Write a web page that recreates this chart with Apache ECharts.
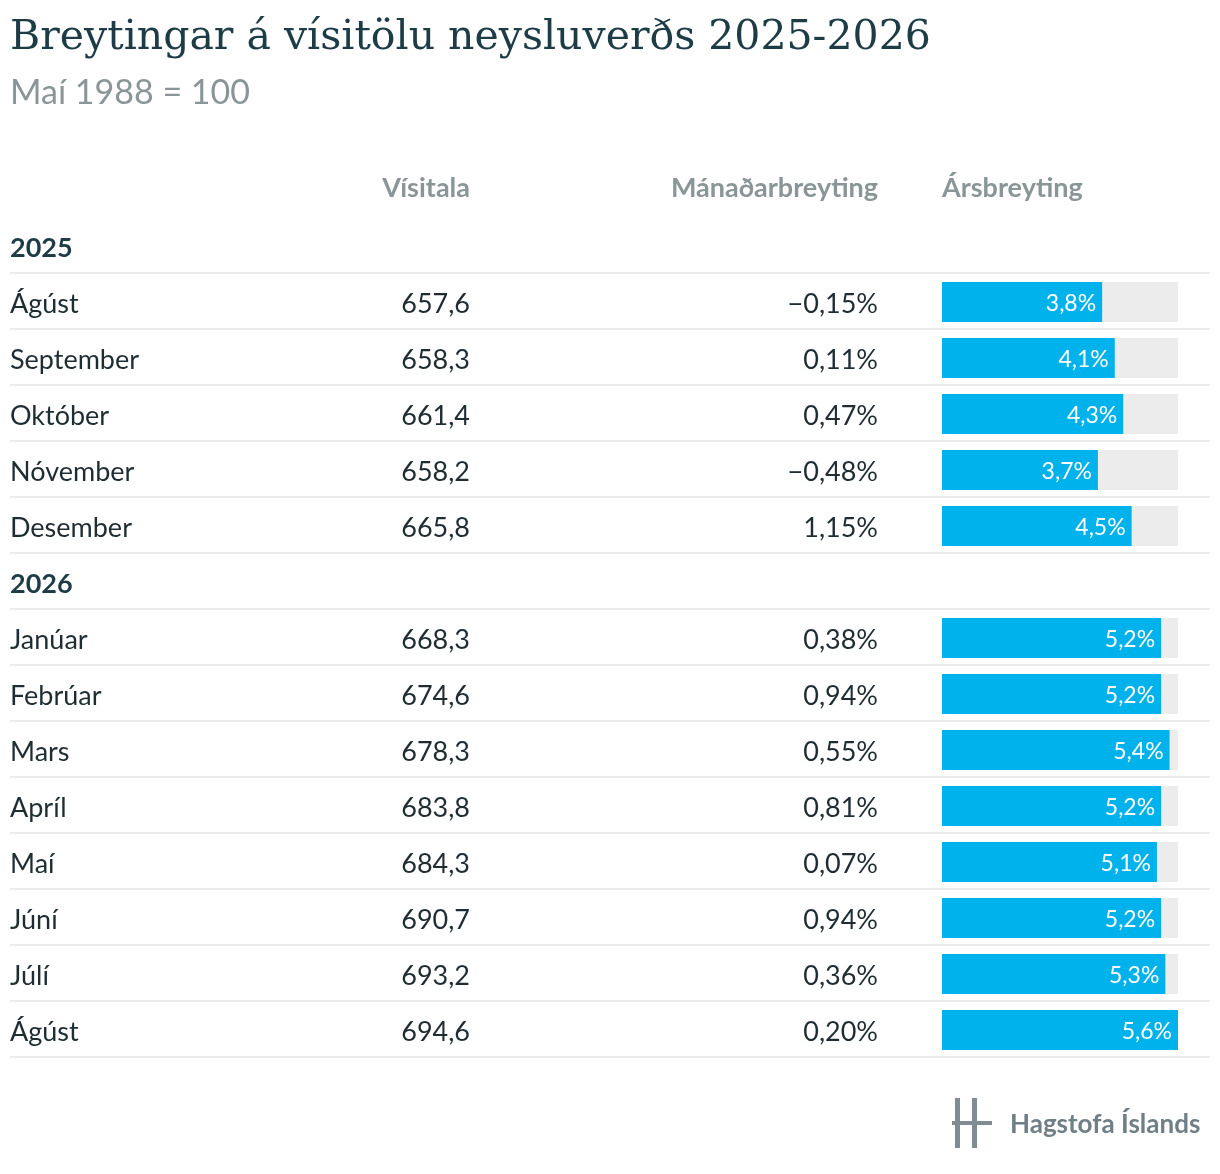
<!DOCTYPE html>
<html>
<head>
<meta charset="utf-8">
<script src="https://cdn.jsdelivr.net/npm/echarts@6/dist/echarts.min.js"></script>
<style>html,body{margin:0;padding:0;background:#fff}#chart{width:1220px;height:1174px}</style>
</head>
<body>
<div id="chart"></div>
<script>
// rows of the table, year headers have null values
var rows = ['2025', 'Ágúst', 'September', 'Október', 'Nóvember', 'Desember',
    '2026', 'Janúar', 'Febrúar', 'Mars', 'Apríl', 'Maí', 'Júní', 'Júlí', 'Ágúst'];
var visitala = [null, '657,6', '658,3', '661,4', '658,2', '665,8',
    null, '668,3', '674,6', '678,3', '683,8', '684,3', '690,7', '693,2', '694,6'];
var manadar = [null, '\u22120,15%', '0,11%', '0,47%', '\u22120,48%', '1,15%',
    null, '0,38%', '0,94%', '0,55%', '0,81%', '0,07%', '0,94%', '0,36%', '0,20%'];
var arsbreyting = ['-', 3.8, 4.1, 4.3, 3.7, 4.5, '-', 5.2, 5.2, 5.4, 5.2, 5.1, 5.2, 5.3, 5.6];
var maxValue = 5.6;

var top0 = 218, rowH = 56;
var font = 'Lato, "Open Sans", sans-serif';
var graphics = [
    {type: 'text', left: 10, top: 18, style: {text: 'Breytingar á vísitölu neysluverðs 2025-2026', font: '41px "DejaVu Serif", serif', fill: '#1d3c46'}},
    {type: 'text', left: 10, top: 76, style: {text: 'Maí 1988 = 100', font: '34px ' + font, fill: '#8a9598'}},
    {type: 'text', x: 470, y: 188, style: {text: 'Vísitala', font: 'bold 27px ' + font, fill: '#8a9598', align: 'right', verticalAlign: 'middle'}},
    {type: 'text', x: 878, y: 188, style: {text: 'Mánaðarbreyting', font: 'bold 27px ' + font, fill: '#8a9598', align: 'right', verticalAlign: 'middle'}},
    {type: 'text', x: 942, y: 188, style: {text: 'Ársbreyting', font: 'bold 27px ' + font, fill: '#8a9598', align: 'left', verticalAlign: 'middle'}}
];
rows.forEach(function (r, i) {
    var cy = top0 + rowH * i + rowH / 2 + 2;
    var isYear = visitala[i] === null;
    graphics.push({type: 'text', x: 10, y: cy, style: {text: r, font: (isYear ? 'bold ' : '') + '27px ' + font, fill: isYear ? '#1d3c46' : '#1f2d33', verticalAlign: 'middle'}});
    if (!isYear) {
        graphics.push({type: 'text', x: 470, y: cy, style: {text: visitala[i], font: '27px ' + font, fill: '#1f2d33', align: 'right', verticalAlign: 'middle'}});
        graphics.push({type: 'text', x: 878, y: cy, style: {text: manadar[i], font: '27px ' + font, fill: '#1f2d33', align: 'right', verticalAlign: 'middle'}});
    }
    graphics.push({type: 'line', shape: {x1: 10, y1: top0 + rowH * (i + 1) - 1, x2: 1210, y2: top0 + rowH * (i + 1) - 1}, style: {stroke: '#e6e6e6', lineWidth: 1.5}});
});
// logo
graphics.push({type: 'group', left: 952, top: 1098, children: [
    {type: 'rect', shape: {x: 3, y: 0, width: 5, height: 50}, style: {fill: '#7f8d92'}},
    {type: 'rect', shape: {x: 20, y: 0, width: 5, height: 50}, style: {fill: '#7f8d92'}},
    {type: 'rect', shape: {x: 0, y: 23, width: 40, height: 4}, style: {fill: '#7f8d92'}},
    {type: 'text', x: 58, y: 27, style: {text: 'Hagstofa Íslands', font: 'bold 26px ' + font, fill: '#6f7f85', verticalAlign: 'middle'}}
]});

var bg = arsbreyting.map(function (v) { return v === '-' ? '-' : maxValue; });

var option = {
    animation: false,
    graphic: graphics,
    grid: {left: 942, width: 236, top: top0, height: rowH * rows.length},
    xAxis: {type: 'value', min: 0, max: maxValue, show: false},
    yAxis: {type: 'category', data: rows, inverse: true, show: false},
    series: [
        {type: 'bar', data: bg, barWidth: 40, barGap: '-100%', itemStyle: {color: '#ececec'}, silent: true},
        {type: 'bar', data: arsbreyting, barWidth: 40, itemStyle: {color: '#00b2ec'},
            label: {show: true, position: 'insideRight', distance: 6, offset: [0, 2], color: '#fff', fontFamily: 'Lato', fontSize: 23,
                formatter: function (p) { return p.value.toFixed(1).replace('.', ',') + '%'; }}}
    ]
};
echarts.init(document.getElementById('chart')).setOption(option);
</script>
</body>
</html>
